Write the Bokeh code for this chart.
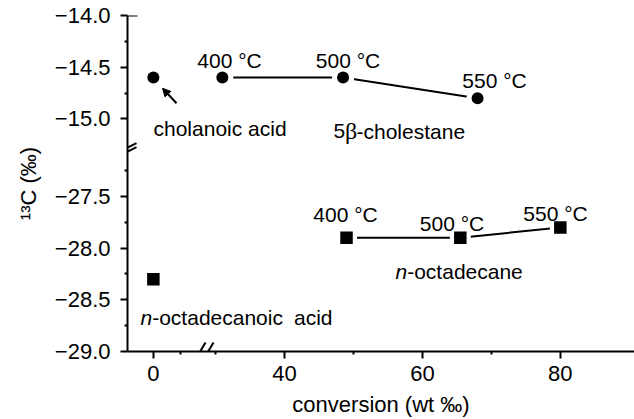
import math
from bokeh.plotting import figure
from bokeh.models import Label, Arrow, NormalHead, FixedTicker, Range1d
from bokeh.embed import file_html
from bokeh.resources import INLINE

# ---------------- data ----------------
cholestane_conv = [31, 48.5, 68]          # 5β-cholestane, wt %
cholestane_d13c = [-14.6, -14.6, -14.8]
cholanoic_conv = [0]
cholanoic_d13c = [-14.6]
octadecane_conv = [49, 65.5, 80]
octadecane_d13c = [-27.9, -27.9, -27.8]
octadecanoic_conv = [0]
octadecanoic_d13c = [-28.3]
temps = ["400 °C", "500 °C", "550 °C"]
x_tick_values = [0, 40, 60, 80]
y_ticks_upper = [-14.0, -14.5, -15.0]
y_ticks_lower = [-27.5, -28.0, -28.5, -29.0]
y_minor_upper = [-14.25, -14.75]
y_minor_lower = [-27.25, -27.75, -28.25, -28.75]
x_minor_values = [30, 50, 70]

# ---------------- broken-axis transforms ----------------
X_SHIFT = 21.0      # left segment (near 0) shifted right
Y_SHIFT = 11.75     # lower segment shifted up

def tx(v):
    return v + X_SHIFT if v < 10 else v

def ty(v):
    return v if v > -20 else v + Y_SHIFT

# ---------------- layout (canvas px) ----------------
W, H = 634, 419
FL, FT, FR, FB = 127, 15, 634, 352
XS, XE = 17.25, 90.75
YS, YE = -17.25, -14.0

def dx(px):
    return XS + (px - FL) * (XE - XS) / (FR - FL)

def dy(py):
    return YE - (py - FT) * (YE - YS) / (FB - FT)

p = figure(width=W, height=H, x_range=Range1d(XS, XE), y_range=Range1d(YS, YE),
           output_backend="svg", toolbar_location=None,
           min_border_left=FL, min_border_right=0, min_border_top=FT,
           min_border_bottom=H - FB)
p.outline_line_color = None
p.xgrid.grid_line_color = None
p.ygrid.grid_line_color = None
p.background_fill_color = "white"
p.border_fill_color = "white"

FONT = "Liberation Sans"

# axes
xt = [tx(v) for v in x_tick_values]
p.xaxis.ticker = FixedTicker(ticks=xt, minor_ticks=[25] + x_minor_values)
p.xaxis.major_label_overrides = {t: str(v) for t, v in zip(xt, x_tick_values)}
yt_vals = y_ticks_upper + y_ticks_lower
yt = [ty(v) for v in yt_vals]
p.yaxis.ticker = FixedTicker(ticks=yt, minor_ticks=[ty(v) for v in y_minor_upper + y_minor_lower])
p.yaxis.major_label_overrides = {t: f"{v:.1f}".replace("-", "\u2212") for t, v in zip(yt, yt_vals)}

for ax in (p.xaxis, p.yaxis):
    ax.axis_line_width = 2
    ax.axis_line_color = "black"
    ax.major_tick_line_width = 2
    ax.minor_tick_line_width = 2
    ax.major_tick_line_color = "black"
    ax.minor_tick_line_color = "black"
    ax.major_tick_out = 7
    ax.major_tick_in = 0
    ax.minor_tick_out = 3
    ax.minor_tick_in = 0
    ax.major_label_text_font = FONT
    ax.major_label_text_font_size = "22px"
    ax.major_label_text_color = "black"
    ax.axis_label_text_font = FONT
    ax.axis_label_text_font_style = "normal"
    ax.axis_label_text_color = "black"
p.yaxis.major_label_standoff = 10
p.xaxis.major_label_standoff = 7

p.xaxis.axis_label = "conversion (wt \u2030)"
p.xaxis.axis_label_text_font_size = "22px"
p.xaxis.axis_label_standoff = 8
p.yaxis.axis_label = "\u00b9\u00b3C (\u2030)"
p.yaxis.axis_label_text_font_size = "22px"
p.yaxis.axis_label_standoff = 11

# ---------------- series ----------------
cx = [tx(v) for v in cholestane_conv]
cy = [ty(v) for v in cholestane_d13c]
ox = [tx(v) for v in octadecane_conv]
oy = [ty(v) for v in octadecane_d13c]
p.line(cx, cy, line_color="black", line_width=2)
p.line(ox, oy, line_color="black", line_width=2)

circ_x = cx + [tx(v) for v in cholanoic_conv]
circ_y = cy + [ty(v) for v in cholanoic_d13c]
sq_x = ox + [tx(v) for v in octadecanoic_conv]
sq_y = oy + [ty(v) for v in octadecanoic_d13c]

p.scatter(circ_x, circ_y, marker="circle", size=22, fill_color="white", line_color=None)
p.scatter(sq_x, sq_y, marker="square", size=21, fill_color="white", line_color=None)
p.scatter(circ_x, circ_y, marker="circle", size=12, fill_color="black", line_color=None)
p.scatter(sq_x, sq_y, marker="square", size=12.5, fill_color="black", line_color=None)

# ---------------- annotations ----------------
def lab(text, px, py, size="21px", align="left", font=FONT, style="normal", angle=0):
    p.add_layout(Label(x=dx(px), y=dy(py), text=text, text_font=font,
                       text_font_size=size, text_align=align, text_baseline="alphabetic",
                       text_font_style=style, text_color="black", angle=angle))

lab(temps[0], 229, 60, align="center")
lab(temps[1], 347.5, 60, align="center")
lab(temps[2], 494, 80, align="center")
lab("cholanoic acid", 153, 128)
lab("5", 333, 131)
lab("\u03b2", 344.5, 131, size="24px", font="Liberation Serif")
lab("-cholestane", 356, 131)

lab(temps[0], 345, 215, align="center")
lab(temps[1], 451.5, 224, align="center")
lab(temps[2], 555, 214, align="center")
lab("n", 395, 272, style="italic")
lab("-octadecane", 406.7, 272)
lab("n", 140, 318, style="italic")
lab("-octadecanoic", 151.7, 318)
lab("acid", 293.5, 318)

# arrow pointing to cholanoic acid
p.add_layout(Arrow(end=NormalHead(size=8, fill_color="black", line_color="black"),
                   x_start=dx(176), y_start=dy(103), x_end=dx(162), y_end=dy(88),
                   line_width=2, line_color="black"))

def seg(x0, y0, x1, y1):
    p.add_layout(Arrow(end=None, start=None, x_start=dx(x0), y_start=dy(y0),
                       x_end=dx(x1), y_end=dy(y1), line_width=2, line_color="black"))

# axis break marks (parts inside the frame)
seg(120, 151, 136, 143)
seg(120, 155, 136, 147)
seg(195, 360, 205, 343)
seg(203, 360, 213, 343)
# top cap
seg(127, 15, 137, 15)

open("out.html", "w").write(file_html(p, INLINE))
